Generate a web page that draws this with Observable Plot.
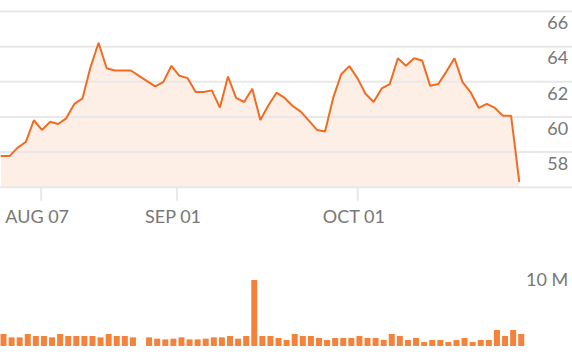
<!DOCTYPE html>
<html>
<head>
<meta charset="utf-8">
<script src="https://cdn.jsdelivr.net/npm/d3@7"></script>
<script src="https://cdn.jsdelivr.net/npm/@observablehq/plot@0.6"></script>
<style>
  html, body { margin: 0; padding: 0; background: #fff; }
  #chart svg { display: block; }
</style>
</head>
<body>
<div id="chart"></div>
<script>
// Trading-day index categories (one per session)
const prices = [
  57.77, 57.77, 58.25, 58.57, 59.81, 59.26, 59.72, 59.60, 59.92, 60.74,
  61.04, 62.83, 64.22, 62.77, 62.64, 62.64, 62.64, 62.34, 62.04, 61.74,
  61.98, 62.91, 62.34, 62.21, 61.42, 61.42, 61.51, 60.53, 62.30, 61.08,
  60.85, 61.60, 59.83, 60.66, 61.38, 61.08, 60.62, 60.30, 59.79, 59.26,
  59.17, 61.08, 62.43, 62.89, 62.21, 61.32, 60.85, 61.62, 61.87, 63.34,
  62.91, 63.34, 63.21, 61.77, 61.87, 62.58, 63.34, 61.98, 61.40, 60.51,
  60.74, 60.51, 60.06, 60.06, 56.34
];
// Volume in millions of shares (null = no data)
const volumes = [
  1.54, 1.11, 1.11, 1.54, 1.28, 1.28, 1.11, 1.54, 1.28, 1.28,
  1.28, 1.28, 1.11, 1.54, 1.28, 1.28, 1.11, null, 1.11, 0.94,
  0.85, 0.94, 1.11, 0.85, 0.85, 0.94, 1.11, 1.11, 1.28, 0.94,
  1.28, 8.46, 1.28, 1.28, 1.03, 0.77, 1.54, 1.28, 1.28, 1.03,
  0.77, 1.03, 1.03, 1.03, 1.28, 1.03, 1.03, 0.77, 1.54, 1.28,
  0.77, 1.03, 0.51, 0.77, 0.77, 0.51, 0.77, 1.03, 0.51, 0.77,
  0.77, 2.05, 1.28, 2.05, 1.54
];
const xTickLabels = ["AUG 07", "SEP 01", "OCT 01"];
const xTickDays = [4.9, 21.7, 44.05];
const priceTicks = [58, 60, 62, 64, 66];
const priceBase = 56;
const volumeTicks = [10];
const volumeTickLabels = ["10 M"];

const priceData = prices.map((p, i) => ({day: i, price: p}));
const volumeData = volumes.map((v, i) => ({day: i, vol: v})).filter(d => d.vol != null);

const W = 572;
const ML = 1, MR = 53.3;
const font = "Lato, 'Open Sans', sans-serif";
const orange = "#f26b21";
const grid = "#e8e8e8";
const labelColor = "#777777";

const price = Plot.plot({
  width: W,
  height: 240,
  marginLeft: ML,
  marginRight: MR,
  marginTop: 11,
  marginBottom: 53.3,
  style: {fontFamily: font, background: "transparent"},
  x: {domain: [0, 64], axis: null},
  y: {domain: [56, 66], axis: null},
  marks: [
    Plot.areaY(priceData, {x: "day", y1: priceBase, y2: "price", fill: "#fdeee6"}),
    Plot.ruleY([priceBase, ...priceTicks], {stroke: grid, strokeWidth: 2, insetLeft: -ML, insetRight: -MR}),
    Plot.ruleX(xTickDays, {x: d => d, y1: priceBase, y2: priceBase - 0.8, stroke: grid, strokeWidth: 2}),
    Plot.lineY(priceData, {x: "day", y: "price", stroke: orange, strokeWidth: 2, strokeLinejoin: "miter"}),
    Plot.text(priceTicks, {y: d => d, text: d => String(d), frameAnchor: "right", dx: 49, textAnchor: "end", lineAnchor: "top", dy: 5, fontSize: 18, fill: labelColor}),
    Plot.text(xTickDays, {x: d => d, text: (d, i) => xTickLabels[i], frameAnchor: "bottom", lineAnchor: "top", dy: 23.3, dx: -4, fontSize: 18, fill: labelColor})
  ]
});

const volume = Plot.plot({
  width: W,
  height: 116,
  marginLeft: ML,
  marginRight: MR,
  marginTop: 28,
  marginBottom: 10,
  style: {fontFamily: font, background: "transparent"},
  x: {domain: [0, 64], axis: null},
  y: {domain: [0, 10], axis: null},
  marks: [
    Plot.rectY(volumeData, {x1: d => d.day - 0.06, x2: d => d.day + 0.68, y1: 0, y2: "vol", fill: "#f5823a"}),
    Plot.text(volumeTicks, {y: d => d, text: (d, i) => volumeTickLabels[i], frameAnchor: "right", dx: 49, textAnchor: "end", lineAnchor: "top", dy: 5, fontSize: 18, fill: labelColor})
  ]
});

const root = document.getElementById("chart");
root.appendChild(price);
root.appendChild(volume);
</script>
</body>
</html>
